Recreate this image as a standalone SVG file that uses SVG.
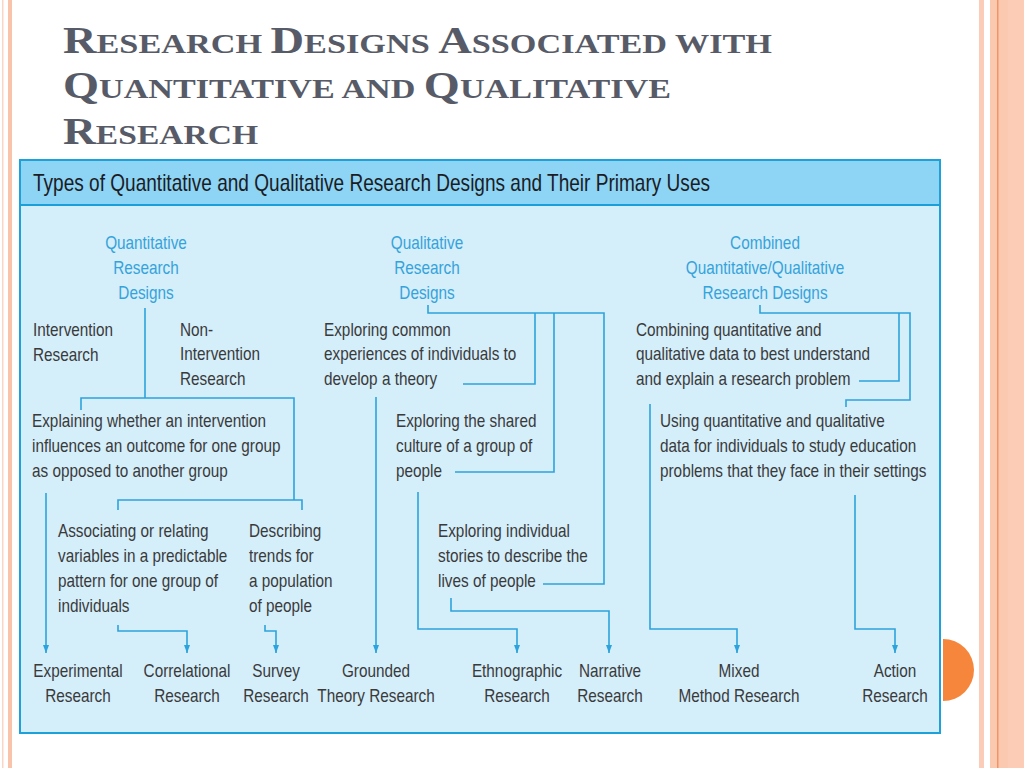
<svg xmlns="http://www.w3.org/2000/svg" width="1024" height="768" viewBox="0 0 1024 768">
<style>
.ttl{font-family:"Liberation Serif","Times New Roman",serif;font-weight:bold;font-size:28px;fill:#575b67}
.big{font-size:38px}
.bar{font-family:"Liberation Sans",Arial,sans-serif;font-size:24px;fill:#1c1c24}
.t{font-family:"Liberation Sans",Arial,sans-serif;font-size:19px;fill:#3a3a3a}
.h{font-family:"Liberation Sans",Arial,sans-serif;font-size:19px;fill:#35a3db;text-anchor:middle}
.m{text-anchor:middle}
.c{fill:none;stroke:#2ca3dc;stroke-width:1.6}
.a{marker-end:url(#arr)}
</style>
<defs>
<marker id="arr" markerUnits="userSpaceOnUse" markerWidth="8" markerHeight="8" viewBox="0 0 8 8" refX="8" refY="4" orient="auto">
<path d="M0,1 L8,4 L0,7 Z" fill="#2ca3dc"/>
</marker>
</defs>
<rect width="1024" height="768" fill="#fff"/>
<g id="decor">
<rect x="2" y="0" width="1.5" height="768" fill="#fbd5c4"/>
<rect x="8" y="0" width="4" height="768" fill="#f9c3ab"/>
<rect x="979" y="0" width="5" height="768" fill="#fbcdb8"/>
<rect x="990" y="0" width="34" height="768" fill="#fbc8b0"/>
<rect x="997" y="0" width="1.5" height="768" fill="#f2946a"/>
<rect x="1008" y="0" width="16" height="768" fill="#fcccb6"/>
<path d="M943,639 A31,31 0 0 1 943,701 Z" fill="#f6863b"/>
</g>
<g id="title">
<text class="ttl" x="63" y="53" textLength="709" lengthAdjust="spacingAndGlyphs"><tspan class="big">R</tspan>ESEARCH <tspan class="big">D</tspan>ESIGNS <tspan class="big">A</tspan>SSOCIATED WITH</text>
<text class="ttl" x="63" y="98" textLength="608" lengthAdjust="spacingAndGlyphs"><tspan class="big">Q</tspan>UANTITATIVE AND <tspan class="big">Q</tspan>UALITATIVE</text>
<text class="ttl" x="63" y="144" textLength="195" lengthAdjust="spacingAndGlyphs"><tspan class="big">R</tspan>ESEARCH</text>
</g>
<g id="panel">
<rect x="20" y="160" width="920" height="573" fill="#d4eefa" stroke="#1da1db" stroke-width="2"/>
<rect x="21" y="161" width="918" height="44" fill="#8dd4f5"/>
<line x1="20" y1="205" x2="940" y2="205" stroke="#1a9fda" stroke-width="2"/>
<text class="bar" x="33" y="191" textLength="677" lengthAdjust="spacingAndGlyphs">Types of Quantitative and Qualitative Research Designs and Their Primary Uses</text>
</g>
<g id="connectors">
<path class="c" d="M145,308 V398 M81,410 V398 H294 V500 M118,510 V500 H302 V510"/>
<path class="c" d="M428,305 V313 H604 V584 H543 M535,313 V384 H463 M554,313 V472 H455"/>
<path class="c" d="M760,305 V313 H910 V400 H846 V407 M899,313 V381 H859"/>
<path class="c a" d="M46,493 V653"/>
<path class="c a" d="M118,625 V631 H187 V653"/>
<path class="c a" d="M265,625 V631 H276 V653"/>
<path class="c a" d="M376,397 V653"/>
<path class="c a" d="M418,492 V629 H517 V653"/>
<path class="c a" d="M451,598 V611 H609 V653"/>
<path class="c a" d="M650,404 V629 H737 V653"/>
<path class="c a" d="M855,495 V629 H895 V653"/>
</g>
<g id="n-quant-head"><text class="h" transform="translate(146,249) scale(0.806,1)"><tspan x="0">Quantitative</tspan><tspan x="0" dy="25">Research</tspan><tspan x="0" dy="25">Designs</tspan></text></g>
<g id="n-qual-head"><text class="h" transform="translate(427,249) scale(0.806,1)"><tspan x="0">Qualitative</tspan><tspan x="0" dy="25">Research</tspan><tspan x="0" dy="25">Designs</tspan></text></g>
<g id="n-comb-head"><text class="h" transform="translate(765,249) scale(0.806,1)"><tspan x="0">Combined</tspan><tspan x="0" dy="25">Quantitative/Qualitative</tspan><tspan x="0" dy="25">Research Designs</tspan></text></g>
<g id="n-intervention"><text class="t" transform="translate(33,336) scale(0.806,1)"><tspan x="0">Intervention</tspan><tspan x="0" dy="25">Research</tspan></text></g>
<g id="n-nonintervention"><text class="t" transform="translate(180,336) scale(0.806,1)"><tspan x="0">Non-</tspan><tspan x="0" dy="24.5">Intervention</tspan><tspan x="0" dy="24.5">Research</tspan></text></g>
<g id="n-explaining"><text class="t" transform="translate(32,427) scale(0.806,1)"><tspan x="0">Explaining whether an intervention</tspan><tspan x="0" dy="25">influences an outcome for one group</tspan><tspan x="0" dy="25">as opposed to another group</tspan></text></g>
<g id="n-associating"><text class="t" transform="translate(58,537) scale(0.806,1)"><tspan x="0">Associating or relating</tspan><tspan x="0" dy="25">variables in a predictable</tspan><tspan x="0" dy="25">pattern for one group of</tspan><tspan x="0" dy="25">individuals</tspan></text></g>
<g id="n-describing"><text class="t" transform="translate(249,537) scale(0.806,1)"><tspan x="0">Describing</tspan><tspan x="0" dy="25">trends for</tspan><tspan x="0" dy="25">a population</tspan><tspan x="0" dy="25">of people</tspan></text></g>
<g id="n-exploring-common"><text class="t" transform="translate(324,336) scale(0.806,1)"><tspan x="0">Exploring common</tspan><tspan x="0" dy="24.5">experiences of individuals to</tspan><tspan x="0" dy="24.5">develop a theory</tspan></text></g>
<g id="n-exploring-shared"><text class="t" transform="translate(396,427) scale(0.806,1)"><tspan x="0">Exploring the shared</tspan><tspan x="0" dy="25">culture of a group of</tspan><tspan x="0" dy="25">people</tspan></text></g>
<g id="n-exploring-individual"><text class="t" transform="translate(438,537) scale(0.806,1)"><tspan x="0">Exploring individual</tspan><tspan x="0" dy="25">stories to describe the</tspan><tspan x="0" dy="25">lives of people</tspan></text></g>
<g id="n-combining"><text class="t" transform="translate(636,336) scale(0.806,1)"><tspan x="0">Combining quantitative and</tspan><tspan x="0" dy="24.5">qualitative data to best understand</tspan><tspan x="0" dy="24.5">and explain a research problem</tspan></text></g>
<g id="n-using"><text class="t" transform="translate(660,427) scale(0.806,1)"><tspan x="0">Using quantitative and qualitative</tspan><tspan x="0" dy="25">data for individuals to study education</tspan><tspan x="0" dy="25">problems that they face in their settings</tspan></text></g>
<g id="n-experimental"><text class="t m" transform="translate(78,677) scale(0.806,1)"><tspan x="0">Experimental</tspan><tspan x="0" dy="25">Research</tspan></text></g>
<g id="n-correlational"><text class="t m" transform="translate(187,677) scale(0.806,1)"><tspan x="0">Correlational</tspan><tspan x="0" dy="25">Research</tspan></text></g>
<g id="n-survey"><text class="t m" transform="translate(276,677) scale(0.806,1)"><tspan x="0">Survey</tspan><tspan x="0" dy="25">Research</tspan></text></g>
<g id="n-grounded"><text class="t m" transform="translate(376,677) scale(0.806,1)"><tspan x="0">Grounded</tspan><tspan x="0" dy="25">Theory Research</tspan></text></g>
<g id="n-ethnographic"><text class="t m" transform="translate(517,677) scale(0.806,1)"><tspan x="0">Ethnographic</tspan><tspan x="0" dy="25">Research</tspan></text></g>
<g id="n-narrative"><text class="t m" transform="translate(610,677) scale(0.806,1)"><tspan x="0">Narrative</tspan><tspan x="0" dy="25">Research</tspan></text></g>
<g id="n-mixed"><text class="t m" transform="translate(739,677) scale(0.806,1)"><tspan x="0">Mixed</tspan><tspan x="0" dy="25">Method Research</tspan></text></g>
<g id="n-action"><text class="t m" transform="translate(895,677) scale(0.806,1)"><tspan x="0">Action</tspan><tspan x="0" dy="25">Research</tspan></text></g>
</svg>
